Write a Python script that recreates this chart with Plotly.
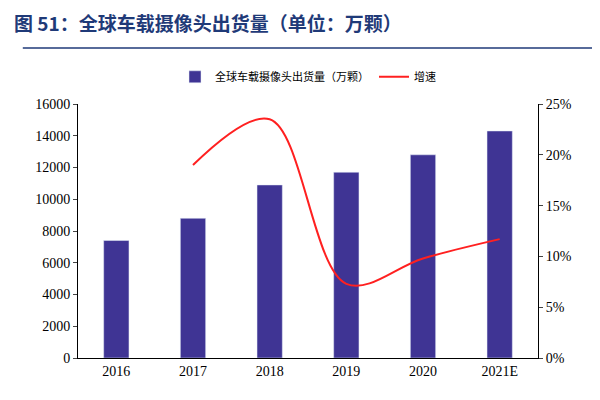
import plotly.graph_objects as go

years = ["2016", "2017", "2018", "2019", "2020", "2021E"]
shipments = [7400, 8800, 10900, 11700, 12800, 14300]
growth_years = ["2017", "2018", "2019", "2020", "2021E"]
growth = [0.19, 0.235, 0.073, 0.098, 0.117]

fig = go.Figure()
fig.add_trace(go.Bar(x=years, y=shipments, name="全球车载摄像头出货量（万颗）",
                     marker_color="#3f3494", width=0.33))
fig.add_trace(go.Scatter(x=growth_years, y=growth, name="增速", yaxis="y2",
                         mode="lines", line=dict(color="#ff2020", width=2, shape="spline", smoothing=1.0)))

tickfont = dict(family="Liberation Serif", size=14, color="black")
fig.update_layout(
    width=600, height=400, plot_bgcolor="white", paper_bgcolor="white",
    margin=dict(l=70, r=70, t=96, b=50),
    font=dict(family="Noto Sans CJK SC"),
    title=dict(text="<b>图 51：全球车载摄像头出货量（单位：万颗）</b>", x=0.01, xanchor="left",
               y=0.975, yanchor="top", font=dict(size=19, color="#1f3a78", family="Noto Sans CJK SC")),
    legend=dict(orientation="h", x=0.5, xanchor="center", y=1.05, yanchor="bottom",
                font=dict(size=11, color="black"), traceorder="normal"),
    xaxis=dict(tickfont=tickfont, showline=True, linecolor="black", ticks="", showgrid=False,
               range=[-0.5, 5.5]),
    yaxis=dict(range=[0, 16000], dtick=2000, tickfont=tickfont, showline=True, linecolor="black",
               ticks="outside", ticklen=4, showgrid=False, tickformat="d"),
    yaxis2=dict(range=[0, 0.25], dtick=0.05, tickformat=".0%", overlaying="y", side="right",
                tickfont=tickfont, showline=True, linecolor="black", ticks="outside", ticklen=4,
                showgrid=False),
    showlegend=True,
)
fig.add_shape(type="line", xref="paper", yref="paper", x0=-0.12, x1=1.12, y0=1.22, y1=1.22,
              line=dict(color="#1f3a78", width=1.5))
fig.write_html("out.html")
